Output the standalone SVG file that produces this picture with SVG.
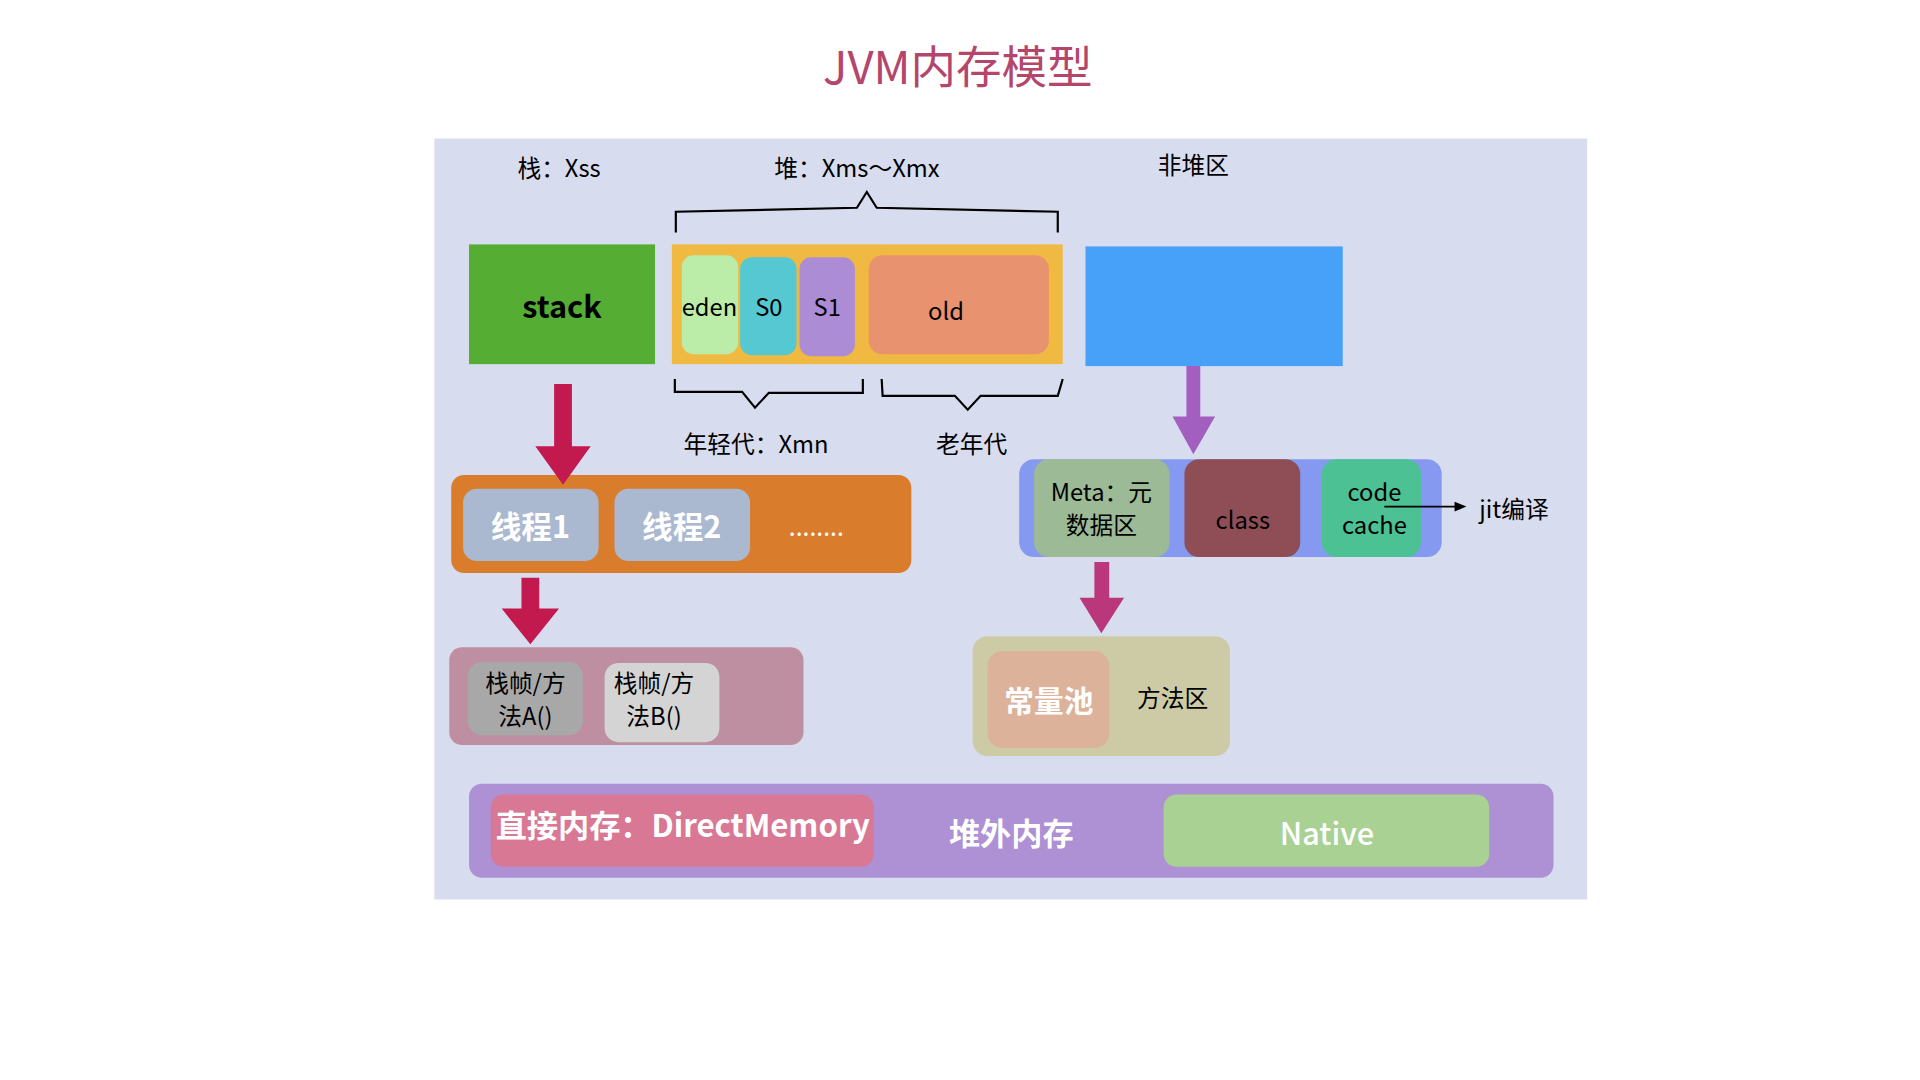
<svg xmlns="http://www.w3.org/2000/svg" width="1920" height="1080" viewBox="0 0 1920 1080">
<style>
text{font-family:"Noto Sans CJK SC","Noto Sans",sans-serif;text-anchor:middle;dominant-baseline:central;fill:#000}
.lbl{font-size:24px}
.box{font-size:24px}
.w{fill:#fff}
.b{font-weight:bold}
.brace{fill:none;stroke:#000;stroke-width:2.2}
</style>
<rect width="1920" height="1080" fill="#fff"/>
<g transform="scale(0.9895)">
<text x="968" y="65" style="font-size:46px;fill:#b5466b">JVM内存模型</text>
<rect id="panel" x="439" y="140" width="1165" height="769" fill="#d8dcef"/>
<g id="labels">
<text class="lbl" x="565" y="168">栈：Xss</text>
<text class="lbl" x="866" y="168">堆：Xms～Xmx</text>
<text class="lbl" x="1206" y="165">非堆区</text>
<text class="lbl" x="764" y="447">年轻代：Xmn</text>
<text class="lbl" x="982" y="447">老年代</text>
</g>
<g id="braces">
<polyline class="brace" points="683,235 683,214 866,210 876,194 886,210 1069,214 1069,235"/>
<polyline class="brace" points="682,383 682,396 750,396 763,412 777,397 872,397 872,383"/>
<polyline class="brace" points="891,383 892,400 965,400 978,414 991,400 1069,400 1074,383"/>
</g>
<g id="stack">
<rect x="474" y="247" width="188" height="121" fill="#55ad34"/>
<text x="568" y="308" class="b" style="font-size:31px">stack</text>
</g>
<g id="heap">
<rect x="679" y="247" width="395" height="121" fill="#f0b942"/>
<g id="eden"><rect x="689" y="258" width="57" height="100" rx="12" fill="#bbeda8"/><text class="box" x="717" y="309">eden</text></g>
<g id="s0"><rect x="748" y="260" width="57" height="99" rx="12" fill="#55c8d2"/><text class="box" x="777" y="309">S0</text></g>
<g id="s1"><rect x="808" y="260" width="56" height="100" rx="12" fill="#ad8cd6"/><text class="box" x="836" y="309">S1</text></g>
<g id="old"><rect x="878" y="258" width="182" height="100" rx="14" fill="#e8926f"/><text class="box" x="956" y="313">old</text></g>
</g>
<g id="nonheap">
<rect x="1097" y="249" width="260" height="121" fill="#48a1f8"/>
</g>
<g id="threads">
<rect x="456" y="480" width="465" height="99" rx="13" fill="#d97c2c"/>
<g id="t1"><rect x="468" y="494" width="137" height="73" rx="14" fill="#aab8d0"/><text class="w b" x="536" y="530" style="font-size:31px">线程1</text></g>
<g id="t2"><rect x="621" y="494" width="137" height="73" rx="14" fill="#aab8d0"/><text class="w b" x="689" y="530" style="font-size:31px">线程2</text></g>
<text class="w" x="825" y="531" style="font-size:25px">........</text>
</g>
<g id="frames">
<rect x="454" y="654" width="358" height="99" rx="13" fill="#be8fa1"/>
<g id="fa"><rect x="473" y="669" width="116" height="74" rx="14" fill="#a8a8a8"/><text class="box" x="531" y="689">栈帧/方</text><text class="box" x="531" y="722">法A()</text></g>
<g id="fb"><rect x="611" y="670" width="116" height="80" rx="14" fill="#d4d4d4"/><text class="box" x="661" y="689">栈帧/方</text><text class="box" x="661" y="722">法B()</text></g>
</g>
<g id="meta">
<rect x="1030" y="464" width="427" height="99" rx="15" fill="#8599f0"/>
<g id="metadata"><rect x="1045" y="464" width="137" height="99" rx="15" fill="#9bba95"/><text class="box" x="1113" y="496">Meta：元</text><text class="box" x="1113" y="529">数据区</text></g>
<g id="class"><rect x="1197" y="464" width="117" height="99" rx="15" fill="#8f4e56"/><text class="box" x="1256" y="524">class</text></g>
<g id="codecache"><rect x="1336" y="464" width="100" height="99" rx="15" fill="#4bc194"/><text class="box" x="1389" y="496">code</text><text class="box" x="1389" y="529">cache</text></g>
</g>
<text id="jit" class="lbl" x="1530" y="513">jit编译</text>
<g id="methodarea">
<rect x="983" y="643" width="260" height="121" rx="15" fill="#cccba5"/>
<g id="pool"><rect x="998" y="658" width="123" height="98" rx="15" fill="#dcb29a"/><text class="w b" x="1060" y="707" style="font-size:30px">常量池</text></g>
<text class="box" x="1185" y="704">方法区</text>
</g>
<g id="offheap">
<rect x="474" y="792" width="1096" height="95" rx="13" fill="#ae90d4"/>
<g id="direct"><rect x="496" y="803" width="387" height="73" rx="13" fill="#d87894"/><text class="w b" x="690" y="832" style="font-size:31.5px">直接内存：DirectMemory</text></g>
<text class="w b" x="1022" y="840" style="font-size:31.5px">堆外内存</text>
<g id="native"><rect x="1176" y="803" width="329" height="73" rx="13" fill="#a9d193"/><text class="w" x="1341" y="840" style="font-size:31px;font-weight:500">Native</text></g>
</g>
<g id="connectors">
<polygon fill="#c2194f" points="560,388 578,388 578,451 597,451 569,490 541,451 560,451"/>
<polygon fill="#a35fc0" points="1199,370 1213,370 1213,421 1228,421 1206,459 1185,421 1199,421"/>
<polygon fill="#c2194f" points="527,584 545,584 545,615 565,615 536,651 507,615 527,615"/>
<polygon fill="#b9377a" points="1106,568 1121,568 1121,604 1136,604 1113,640 1091,604 1106,604"/>
<line x1="1399" y1="512" x2="1472" y2="512" stroke="#000" stroke-width="2"/>
<polygon points="1482,512 1470,507 1470,517" fill="#000"/>
</g>
</g>
</svg>
